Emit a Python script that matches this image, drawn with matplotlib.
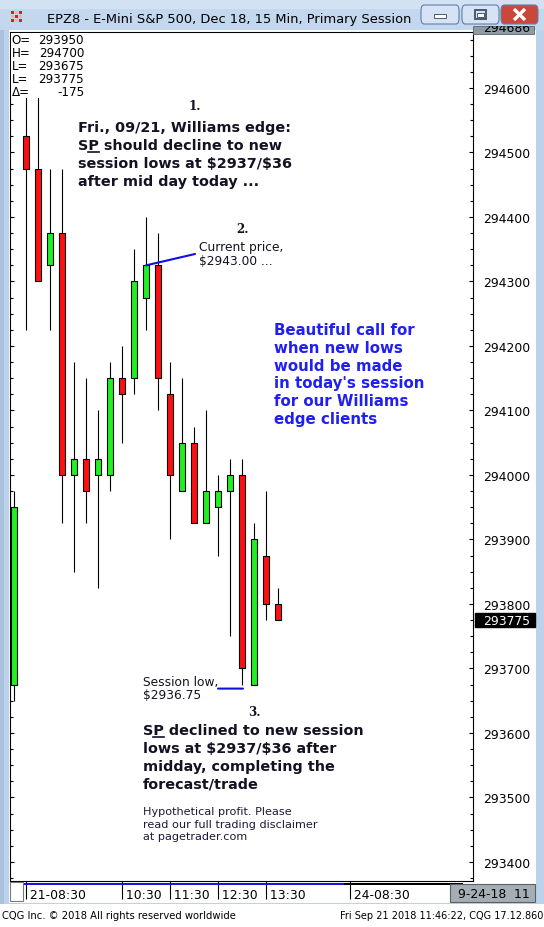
import numpy as np
import matplotlib.pyplot as plt
import matplotlib.ticker as mticker
from matplotlib.patches import Rectangle, FancyBboxPatch
from matplotlib.lines import Line2D
from matplotlib.transforms import offset_copy, blended_transform_factory

W, H = 544, 928

# 15 min candles, EPZ8 (last is 13:45)
opens = [293675, 294525, 294475, 294325, 294375, 294000, 294025, 294000, 294000, 294150, 294150, 294275,
         294325, 294125, 293975, 294050, 293925, 293950, 293975, 294000, 293675, 293875, 293800]
highs = [293975, 294650, 294700, 294475, 294475, 294175, 294150, 294100, 294175, 294200, 294350, 294400,
         294375, 294175, 294150, 294075, 294100, 294000, 294025, 294025, 293925, 293975, 293825]
lows = [293650, 294225, 294300, 294225, 293925, 293850, 293925, 293825, 293975, 294050, 294125, 294225,
        294100, 293900, 293975, 293925, 293925, 293875, 293750, 293675, 293675, 293775, 293775]
closes = [293950, 294475, 294300, 294375, 294000, 294025, 293975, 294025, 294150, 294125, 294300, 294325,
          294150, 294000, 294050, 293925, 293975, 293975, 294000, 293700, 293900, 293800, 293775]

time_pos = [1, 9, 13, 17, 21, 28]
time_labels = ['21-08:30', '10:30', '11:30', '12:30', '13:30', '24-08:30']

ohlc_names = ['O=', 'H=', 'L=', 'L=', 'Δ=']
ohlc_values = ['293950', '294700', '293675', '293775', '-175']

title = 'EPZ8 - E-Mini S&P 500, Dec 18, 15 Min, Primary Session'

fig = plt.figure(figsize=(W / 100, H / 100), dpi=100)
fig.patch.set_facecolor('#bcd2ea')


def box(x, y, w, h, **kw):
    r = Rectangle((x / W, 1 - (y + h) / H), w / W, h / H, transform=fig.transFigure, **kw)
    fig.add_artist(r)
    return r


def ftext(x, y, s, **kw):
    kw.setdefault('parse_math', False)
    return fig.text(x / W, 1 - y / H, s, **kw)


def put_lines(x, y0, dy, lines, **kw):
    out = []
    for i, s in enumerate(lines):
        out.append(ftext(x, y0 + i * dy, s, va='baseline', **kw))
    return out


# window chrome
box(0, 0, W, 31, fc='#c3d7ee', ec='none', zorder=-2)
box(0, 0, W, 10, fc='#d3e2f3', ec='none', zorder=-2)
box(9, 31, 527, 873, fc='white', ec='none', zorder=-1)
box(0, 905, W, 23, fc='white', ec='none', zorder=-1)
box(0, 31, 4, 874, fc='#a9c1dc', ec='none', zorder=-1)

# title bar icon
for i in range(3):
    for j in range(3):
        box(11 + i * 4, 12 + j * 4, 3, 3, fc='#d62020' if (i + j) % 2 == 0 else '#f3b0b0', ec='none', zorder=2)

ftext(47, 19.5, title, va='center', ha='left', fontsize=9.4, family='DejaVu Sans', color='black')

# window buttons
for bx, bw, fc in [(421, 38, '#d5e3f4'), (462, 37, '#d5e3f4'), (501, 37, '#c9473b')]:
    fig.add_artist(FancyBboxPatch((bx / W, 1 - 25 / H), bw / W, 19 / H,
                                  boxstyle='round,pad=0,rounding_size=0.006', transform=fig.transFigure,
                                  fc=fc, ec='#5f7fa6', lw=0.8, zorder=2))
box(434, 15, 12, 4, fc='white', ec='#4a5a6e', lw=0.7, zorder=3)
box(475, 11, 11, 9, fc='none', ec='#4a5a6e', lw=1.4, zorder=3)
box(477, 14, 7, 4, fc='white', ec='#4a5a6e', lw=0.7, zorder=3)
for xs, ys in [([514, 525], [10, 21]), ([514, 525], [21, 10])]:
    fig.add_artist(Line2D([v / W for v in xs], [1 - v / H for v in ys], transform=fig.transFigure,
                          color='white', lw=2.4, zorder=3, solid_capstyle='butt'))

# main price panel
ax = fig.add_axes([10 / W, 1 - 882 / H, 463 / W, 849 / H])
ax.set_facecolor('white')
for s in ax.spines.values():
    s.set_color('black')
    s.set_linewidth(0.8)

x = np.arange(len(opens))
o = np.array(opens)
c = np.array(closes)
up = c >= o
colors = np.where(up, '#22f022', '#ff1010')
ax.vlines(x, lows, highs, color='black', lw=0.8, zorder=2)
ax.bar(x, np.abs(c - o), bottom=np.minimum(o, c), width=0.5, color=colors,
       edgecolor='black', linewidth=0.8, zorder=3)

ax.set_xlim(-1 / 3, 38.25)
ax.set_ylim(293370.5, 294686.8)

ax.yaxis.set_major_locator(mticker.MultipleLocator(100))
ax.yaxis.set_minor_locator(mticker.MultipleLocator(25))
ax.yaxis.set_major_formatter(mticker.FormatStrFormatter('%d'))
ax.tick_params(axis='y', which='both', direction='in', left=True, right=True,
               labelleft=False, labelright=True, width=0.8, color='black')
ax.tick_params(axis='y', which='major', length=3.2, pad=7, labelsize=8.9, labelcolor='black')
ax.tick_params(axis='y', which='minor', length=2.2)

ax.set_xticks(time_pos, [' ' + t for t in time_labels])
ax.tick_params(axis='x', direction='out', length=13, width=0.8, pad=-8, labelsize=8.9)
for lab in ax.get_xticklabels():
    lab.set_ha('left')

# current price marker on the right scale
tr = blended_transform_factory(ax.transAxes, ax.transData)
ax.add_patch(Rectangle((1 + 2 / 463, closes[-1] - 11), 60 / 463, 22, transform=tr,
                       fc='black', ec='black', clip_on=False, zorder=5))
ax.text(1 + 10 / 463, closes[-1], str(closes[-1]), transform=tr, ha='left', va='center',
        color='white', fontsize=8.9, clip_on=False, zorder=6)

# cut-off label at the top of the scale
top_box = box(473, 27, 61, 7.5, fc='#8e9ba5', ec='#5d666d', lw=0.6, zorder=2)
t = ftext(483, 29, '294686', va='center', ha='left', fontsize=8.9, color='black', zorder=3)
t.set_clip_path(top_box)

# time axis strip
box(24, 883.5, 320, 2.5, fc='#1414e6', ec='none', zorder=2)
box(344, 883.5, 119, 2.5, fc='black', ec='none', zorder=2)
box(10, 883, 13, 19, fc='white', ec='#7a7a7a', lw=0.8, zorder=2)
box(450, 885, 85, 18, fc='#a6aeb5', ec='#5a6066', lw=0.8, zorder=2)
ftext(458, 894.5, '9-24-18  11', va='center', ha='left', fontsize=8.9, color='black', zorder=3)

# OHLC readout
box(10.5, 33.5, 76, 65, fc='white', ec='none', zorder=1)
for i, (nm, val) in enumerate(zip(ohlc_names, ohlc_values)):
    yb = 44 + i * 13.1
    ftext(11.5, yb, nm, va='baseline', ha='left', fontsize=8.6, color='black', zorder=2)
    ftext(84, yb, val, va='baseline', ha='right', fontsize=8.6, color='black', zorder=2)

# annotations
bold = dict(family='DejaVu Sans', weight='bold', fontsize=10.4, color='#121222', ha='left')
num = dict(family='DejaVu Serif', weight='bold', fontsize=8.6, color='#121222', ha='center', va='baseline')
small = dict(family='DejaVu Sans', fontsize=8.8, color='#121222', ha='left')

ftext(195, 110, '1.', **num)
b1 = put_lines(78, 132, 18, ['Fri., 09/21, Williams edge:', 'SP should decline to new',
                             'session lows at $2937/$36', 'after mid day today ...'], **bold)

ftext(242.5, 233, '2.', **num)
put_lines(199, 251, 14.3, ['Current price,', '$2943.00 ...'], **small)
ax.annotate('', xy=(11, closes[11]), xycoords='data', xytext=(195 / W, 1 - 255 / H),
            textcoords='figure fraction',
            arrowprops=dict(arrowstyle='-', color='#1010e0', lw=1.5, shrinkA=0, shrinkB=0))

put_lines(274, 335, 17.8, ['Beautiful call for', 'when new lows', 'would be made',
                           "in today's session", 'for our Williams', 'edge clients'],
          family='DejaVu Sans', weight='bold', fontsize=10.8, color='#2020f0', ha='left')

put_lines(143, 686, 13.5, ['Session low,', '$2936.75'], **small)
ax.annotate('', xy=(19, lows[19]),
            xycoords=offset_copy(ax.transData, fig=fig, x=1, y=-4, units='dots'),
            xytext=(-25, 0), textcoords='offset pixels',
            arrowprops=dict(arrowstyle='-', color='#1010e0', lw=1.5, shrinkA=0, shrinkB=0))

ftext(254, 716, '3.', **num)
b3 = put_lines(143, 735, 18, ['SP declined to new session', 'lows at $2937/$36 after',
                              'midday, completing the', 'forecast/trade'], **bold)

put_lines(143, 815, 12.7, ['Hypothetical profit. Please', 'read our full trading disclaimer',
                           'at pagetrader.com'], family='DejaVu Sans', fontsize=8.1, color='#1a1a3a', ha='left')

# underline the P of "SP"
r = fig.canvas.get_renderer()
probe_kw = {k: v for k, v in bold.items() if k != 'ha'}
for tl, yb in [(b1[1], 132 + 18), (b3[0], 735)]:
    ext = tl.get_window_extent(r)
    probe = fig.text(ext.x0 / W, 0, 'S', **probe_kw)
    sw = probe.get_window_extent(r).width
    probe2 = fig.text(ext.x0 / W, 0, 'SP', **probe_kw)
    spw = probe2.get_window_extent(r).width
    probe.remove()
    probe2.remove()
    x0 = ext.x0 + sw
    x1 = ext.x0 + spw
    fig.add_artist(Line2D([x0 / W, x1 / W], [1 - (yb + 2.5) / H] * 2, transform=fig.transFigure,
                          color='#121222', lw=1.2, zorder=3))

# footer
ftext(2, 916.5, 'CQG Inc. © 2018 All rights reserved worldwide', va='center', ha='left',
      fontsize=7.2, color='black')
ftext(543, 916.5, 'Fri Sep 21 2018 11:46:22, CQG 17.12.860', va='center', ha='right',
      fontsize=7.0, color='black')

plt.savefig('out.png', dpi=100, facecolor=fig.get_facecolor())
plt.close()
